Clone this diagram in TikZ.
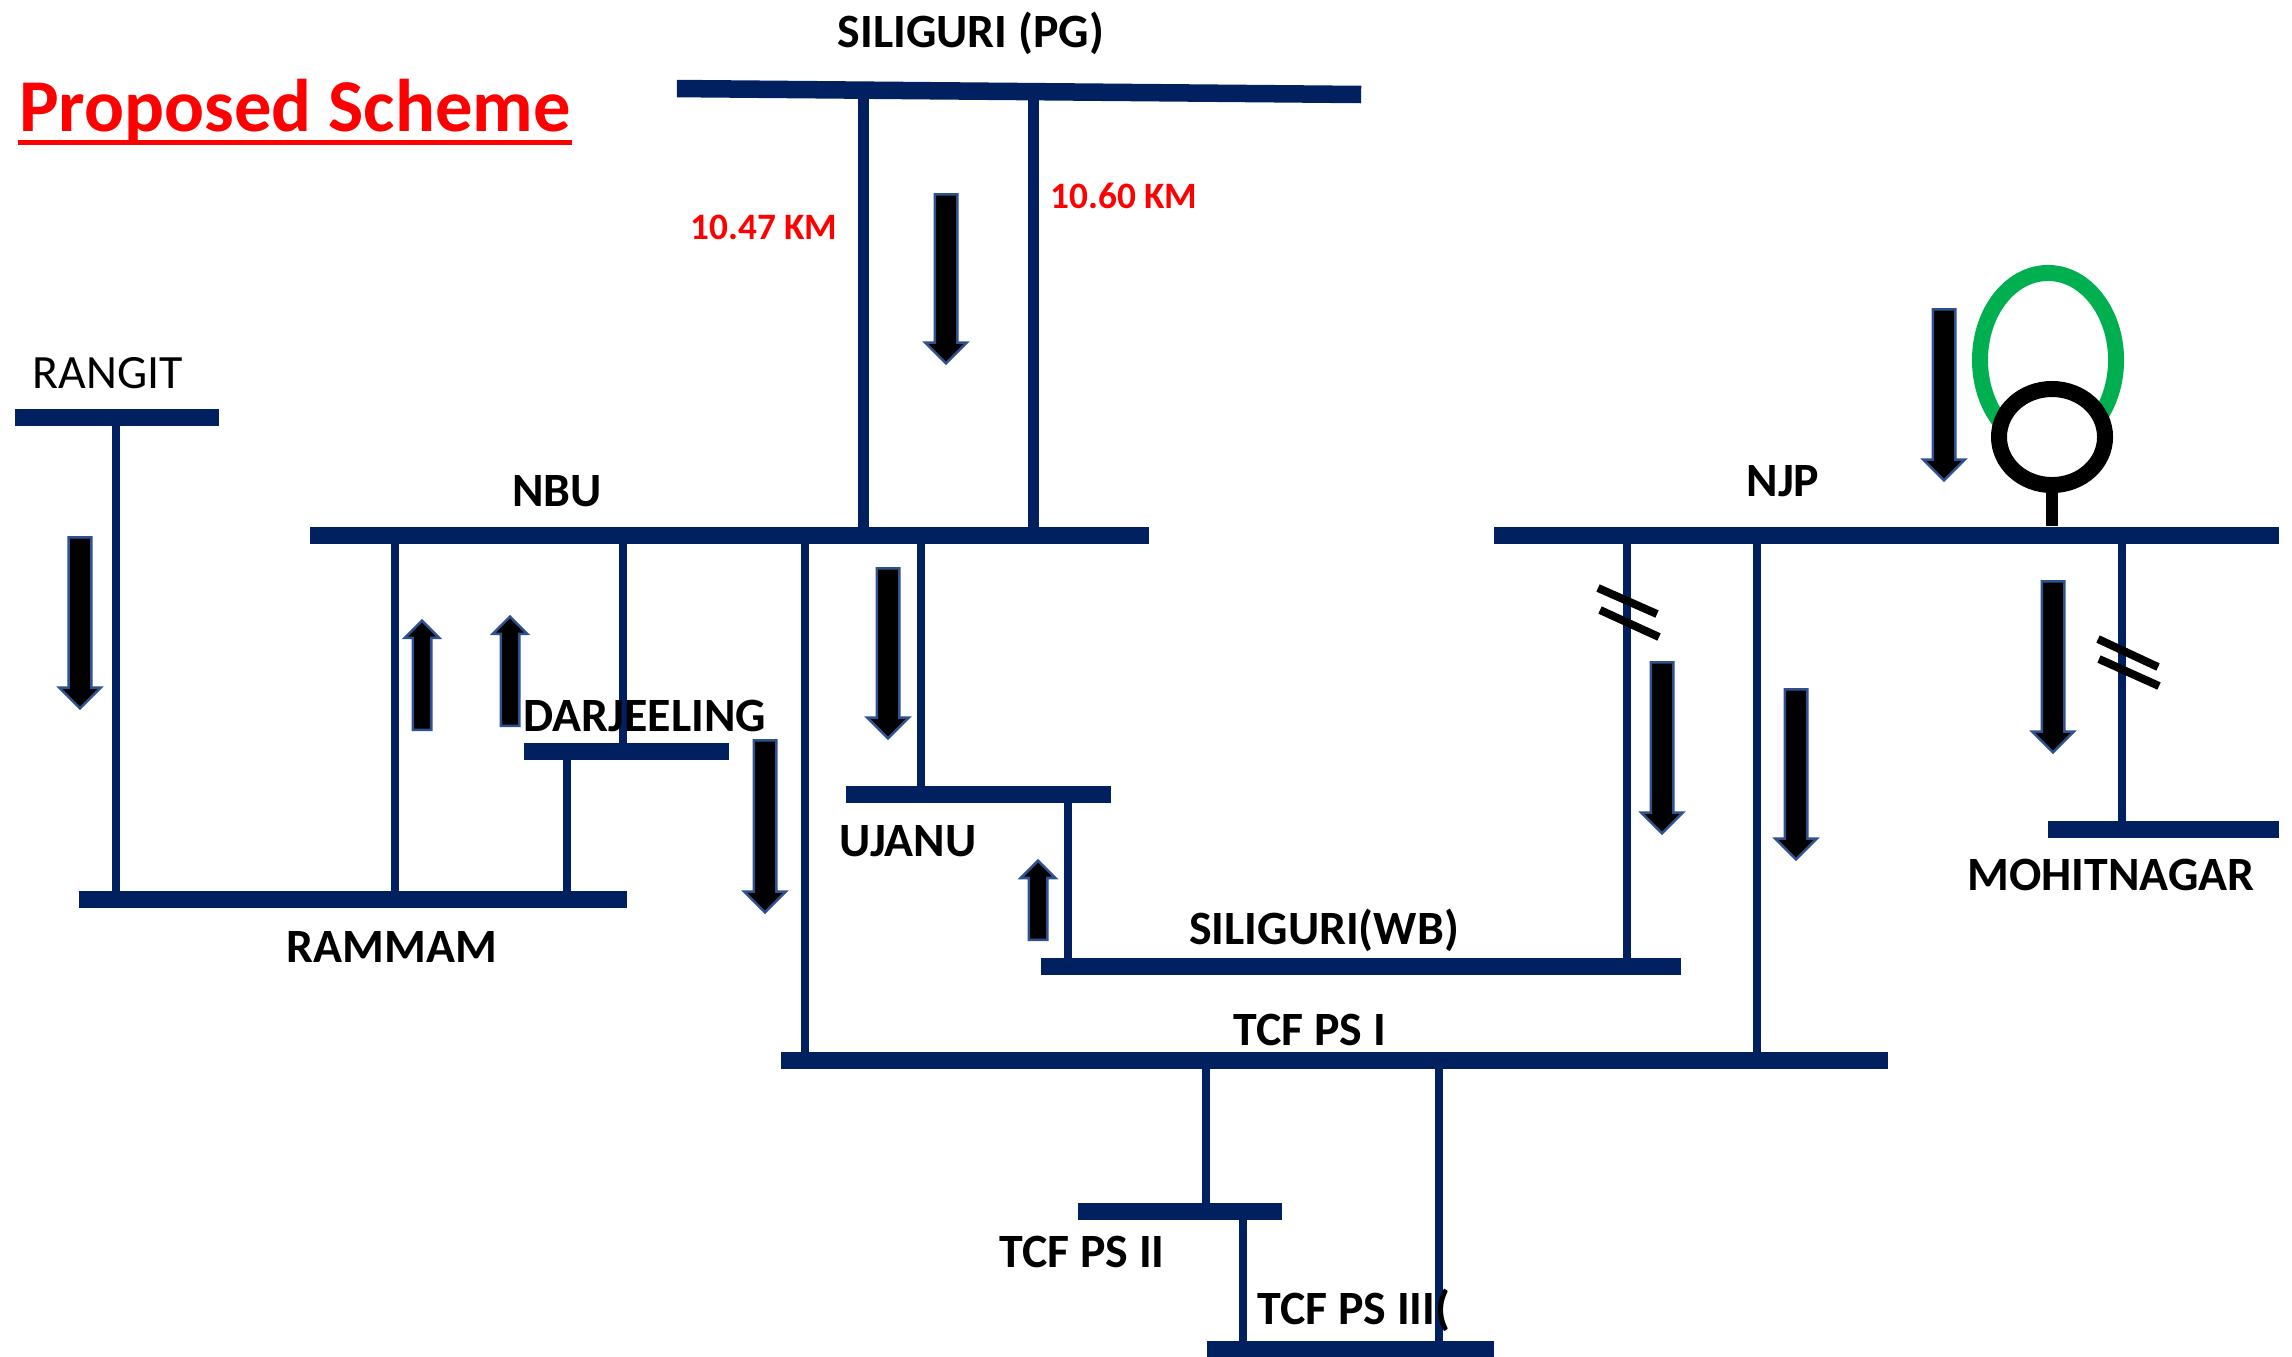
\documentclass[tikz,border=0pt]{standalone}
\usepackage{fontspec}
\setmainfont{Carlito}
\usetikzlibrary{calc, positioning, arrows.meta, shapes.arrows, shapes.geometric}
\definecolor{busblue}{RGB}{0,32,96}
\definecolor{edgeblue}{RGB}{47,82,143}
\definecolor{loopgreen}{RGB}{0,176,80}
\tikzset{
  bus/.style={fill=busblue, inner sep=0pt, minimum height=0.175cm, yshift=-0.005cm},
  feeder/.style={draw=busblue, line width=0.085cm},
  mainfeeder/.style={draw=busblue, line width=0.11cm},
  busname/.style={font=\bfseries\fontsize{13.6}{15}\selectfont, inner sep=0pt},
  kmname/.style={font=\bfseries\fontsize{10.6}{12}\selectfont, text=red, inner sep=0pt},
  flow/.style={single arrow, fill=black, draw=edgeblue, line width=0.25mm, inner xsep=0pt,
    inner ysep=0.1cm, single arrow head extend=0.095cm, minimum width=0.38cm, anchor=tail},
  smallflow/.style={flow, inner ysep=0.08cm, single arrow head extend=0.08cm, minimum width=0.3cm},
  tick/.style={draw=black, line width=0.08cm}
}
\begin{document}
\begin{tikzpicture}[x=0.01cm, y=-0.01cm]
\useasboundingbox (0,0) rectangle (2292,1356);
% Bus bars
\node[bus, minimum width=6.84cm, rotate=-0.5] (pg) at (1019,91) {};
\node[bus, minimum width=2.04cm] (rangit) at (117,417) {};
\node[bus, minimum width=8.39cm] (nbu) at (729.5,535) {};
\node[bus, minimum width=7.85cm] (njp) at (1886.5,535) {};
\node[bus, minimum width=2.05cm] (darjeeling) at (626.5,751) {};
\node[bus, minimum width=5.48cm] (rammam) at (353,899) {};
\node[bus, minimum width=2.65cm] (ujanu) at (978.5,794) {};
\node[bus, minimum width=6.40cm] (siliguriwb) at (1361,966) {};
\node[bus, minimum width=11.07cm] (tcfa) at (1334.5,1060) {};
\node[bus, minimum width=2.04cm] (tcfb) at (1180,1211) {};
\node[bus, minimum width=2.87cm] (tcfc) at (1350.5,1349) {};
\node[bus, minimum width=2.31cm] (mohitnagar) at (2163.5,829) {};
% Lines between the bus bars
\foreach \busa/\busb/\xpos in {rangit/rammam/116, nbu/rammam/395, nbu/darjeeling/623,
  darjeeling/rammam/567, nbu/tcfa/805, nbu/ujanu/921, ujanu/siliguriwb/1068,
  njp/siliguriwb/1627, njp/tcfa/1757, njp/mohitnagar/2122, tcfa/tcfb/1206,
  tcfa/tcfc/1439, tcfb/tcfc/1243}
  \draw[feeder] (\busa -| \xpos,0) -- (\busb -| \xpos,0);
\foreach \xpos in {863,1033}
  \draw[mainfeeder] (pg -| \xpos,0) -- (nbu -| \xpos,0);
% Flow arrows
\node[flow, rotate=-90, minimum height=1.69cm] (flowpg) at (946,193) {};
\node[flow, rotate=-90, minimum height=1.71cm] (flowrangit) at (80,536) {};
\node[smallflow, rotate=90, minimum height=1.09cm] (flownbua) at (422,731) {};
\node[smallflow, rotate=90, minimum height=1.09cm] (flownbub) at (510,727) {};
\node[flow, rotate=-90, minimum height=1.72cm] (flowtcf) at (765,739) {};
\node[flow, rotate=-90, minimum height=1.70cm] (flowujanu) at (888,567) {};
\node[smallflow, rotate=90, minimum height=0.79cm] (flowwb) at (1038,941) {};
\node[flow, rotate=-90, minimum height=1.71cm] (flownjpa) at (1662,661) {};
\node[flow, rotate=-90, minimum height=1.70cm] (flownjpb) at (1796,688) {};
\node[flow, rotate=-90, minimum height=1.71cm] (flowmohit) at (2053,580) {};
\node[flow, rotate=-90, minimum height=1.71cm] (flowgt) at (1944,308) {};
% Transformer on NJP
\node[ellipse, draw=loopgreen, line width=0.16cm, inner sep=0pt, minimum width=1.36cm, minimum height=1.74cm] (loop) at (2048,360) {};
\node[ellipse, draw=black, fill=white, line width=0.16cm, inner sep=0pt, minimum width=1.06cm, minimum height=0.96cm] (gt) at (2052,437) {};
\draw[black, line width=0.12cm] (gt.south) -- (njp.north -| gt.south);
% Tick marks
\draw[tick] (1598,588) -- (1657,614);
\draw[tick] (1600,610) -- (1659,637);
\draw[tick] (2098,639) -- (2158,667);
\draw[tick] (2099,659) -- (2159,686);
% Names
\node[font=\bfseries\fontsize{21.2}{25}\selectfont, text=red, inner sep=0pt] (title) at (295,111) {Proposed Scheme};
\draw[red, line width=0.05cm] ($(title.base west)+(0,11)$) -- ($(title.base east)+(0,11)$);
\node[busname] (pgname) at (971,33) {SILIGURI (PG)};
\node[kmname] (kma) at (764,227) {10.47 KM};
\node[kmname] (kmb) at (1124,196) {10.60 KM};
\node[font=\fontsize{13.6}{15}\selectfont, inner sep=0pt] (rangitname) at (108,373) {RANGIT};
\node[busname] (nbuname) at (557,491) {NBU};
\node[busname] (njpname) at (1783,481) {NJP};
\node[busname] (darjname) at (645,716) {DARJEELING};
\node[busname] (ujanuname) at (908,841) {UJANU};
\node[busname] (rammamname) at (392,947) {RAMMAM};
\node[busname] (wbname) at (1324,930) {SILIGURI(WB)};
\node[busname] (tcfaname) at (1310,1030) {TCF PS I};
\node[busname] (tcfbname) at (1082,1252) {TCF PS II};
\node[busname] (tcfcname) at (1354,1310) {TCF PS III(};
\node[busname] (mohitname) at (2111,875) {MOHITNAGAR};
\end{tikzpicture}
\end{document}
